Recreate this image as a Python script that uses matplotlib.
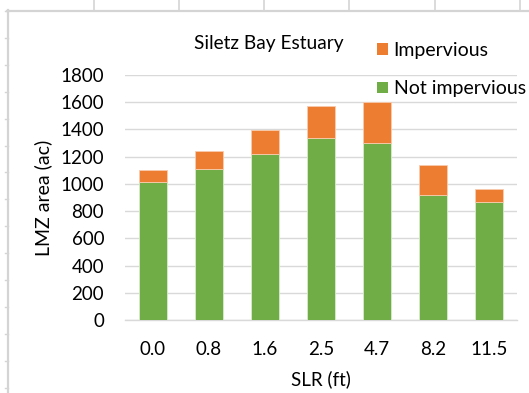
import matplotlib
matplotlib.use("Agg")
import matplotlib.pyplot as plt
from matplotlib.lines import Line2D
from matplotlib.patches import Patch

categories = ["0.0", "0.8", "1.6", "2.5", "4.7", "8.2", "11.5"]
not_impervious = [1015, 1112, 1222, 1340, 1299, 917, 865]
impervious = [90, 128, 175, 233, 306, 225, 100]
yticks = [0, 200, 400, 600, 800, 1000, 1200, 1400, 1600, 1800]

plt.rcParams['font.family'] = ['Lato', 'DejaVu Sans']

W, H = 529, 393
fig = plt.figure(figsize=(W / 100, H / 100), dpi=100)
fig.patch.set_facecolor('white')

# spreadsheet frame decorations
gc = '#D4D4D4'
def fx(x): return x / W
def fy(y): return 1 - y / H
fig.add_artist(Line2D([fx(7), fx(W)], [fy(10.5), fy(10.5)], color=gc, lw=1.6, transform=fig.transFigure))
fig.add_artist(Line2D([fx(8), fx(8)], [fy(10), fy(H)], color=gc, lw=1.6, transform=fig.transFigure))
for xv in [94, 179, 264, 349, 435, 520]:
    fig.add_artist(Line2D([fx(xv), fx(xv)], [fy(0), fy(10)], color=gc, lw=1.2, transform=fig.transFigure))
for k in range(15):
    yv = 11 + 26.9 * k
    fig.add_artist(Line2D([fx(5), fx(8)], [fy(yv), fy(yv)], color=gc, lw=1.0, transform=fig.transFigure))

ax = fig.add_axes([125 / W, (H - 320) / H, (517 - 125) / W, 245 / H])
x = list(range(len(categories)))
green = '#70AD47'
orange = '#ED7D31'
ax.bar(x, not_impervious, width=0.5, color=green, edgecolor='#D8EBCB', linewidth=0.6, zorder=3)
ax.bar(x, impervious, width=0.5, bottom=not_impervious, color=orange, edgecolor='#F8CBAD', linewidth=0.6, zorder=3)

ax.set_xlim(-0.5, len(categories) - 0.5)
ax.set_ylim(0, 1800)
ax.set_yticks(yticks)
ax.set_yticklabels([str(v) for v in yticks])
ax.set_xticks(x)
ax.set_xticklabels(categories)
ax.grid(axis='y', color='#D9D9D9', lw=1.0, zorder=0)
for s in ['top', 'right', 'left']:
    ax.spines[s].set_visible(False)
ax.spines['bottom'].set_color('#D9D9D9')
ax.spines['bottom'].set_linewidth(1.0)
ax.tick_params(axis='both', length=0, labelsize=13.5, colors='black')
ax.tick_params(axis='y', pad=15)
ax.tick_params(axis='x', pad=15)
ax.set_ylabel('LMZ area (ac)', fontsize=14, labelpad=6)
ax.set_xlabel('SLR (ft)', fontsize=13.5, labelpad=9)
ax.set_facecolor('none')

fig.text(269 / W, 1 - 43 / H, 'Siletz Bay Estuary', ha='center', va='center', fontsize=13.8)

handles = [Patch(facecolor=orange, edgecolor='none', label='Impervious'),
           Patch(facecolor=green, edgecolor='none', label='Not impervious')]
fig.legend(handles=handles, loc='upper left', bbox_to_anchor=(377 / W, 1 - 42 / H),
           frameon=False, fontsize=14, handlelength=0.55, handleheight=0.55,
           handletextpad=0.3, labelspacing=1.1, borderpad=0, borderaxespad=0)

fig.savefig('out.png', dpi=100, facecolor='white')
